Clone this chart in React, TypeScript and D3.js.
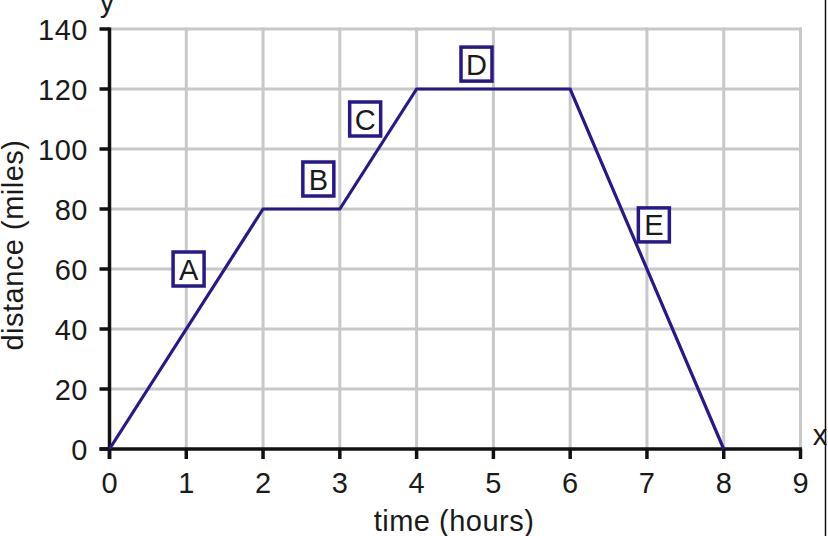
import React from "react";
import * as d3 from "d3";

const xTicks = [0, 1, 2, 3, 4, 5, 6, 7, 8, 9];
const yTicks = [0, 20, 40, 60, 80, 100, 120, 140];
const timeHours = [0, 2, 3, 4, 6, 8];
const distanceMiles = [0, 80, 80, 120, 120, 0];
const segmentLabels = ["A", "B", "C", "D", "E"];
const labelX = [1.03, 2.72, 3.33, 4.78, 7.09];
const labelY = [60, 90, 110, 128.3, 74.7];

const W = 828;
const H = 536;
const FONT = "'Liberation Sans', Arial, Helvetica, sans-serif";
const NAVY = "#27198a";
const FS = 29;
const LS = 0.5;

export default function App() {
  const x = d3.scaleLinear().domain([0, 9]).range([109.5, 800.5]);
  const y = d3.scaleLinear().domain([0, 140]).range([449, 29]);

  const pts = timeHours.map((t, i) => [t, distanceMiles[i]] as [number, number]);
  const line = d3
    .line<[number, number]>()
    .x((d) => x(d[0]))
    .y((d) => y(d[1]));

  return (
    <svg
      width={W}
      height={H}
      style={{ position: "absolute", left: 0, top: 0, background: "#fff" }}
      fontFamily={FONT}
    >
      <rect x={0} y={0} width={W} height={H} fill="#fff" />
      {/* grid */}
      {xTicks
        .filter((t) => t > 0)
        .map((t) => (
          <line
            key={"gx" + t}
            x1={x(t)}
            x2={x(t)}
            y1={y(140) - 1.5}
            y2={y(0)}
            stroke="#c8c8c8"
            strokeWidth={3}
          />
        ))}
      {yTicks
        .filter((t) => t > 0)
        .map((t) => (
          <line
            key={"gy" + t}
            x1={x(0)}
            x2={x(9) + 1.5}
            y1={y(t)}
            y2={y(t)}
            stroke="#c8c8c8"
            strokeWidth={3}
          />
        ))}
      {/* axes */}
      <line x1={x(0)} x2={x(0)} y1={y(140) - 1.5} y2={y(0) + 10} stroke="#111" strokeWidth={3.5} />
      <line x1={x(0) - 10} x2={x(9) + 1.5} y1={y(0)} y2={y(0)} stroke="#111" strokeWidth={3.5} />
      {yTicks.map((t) => (
        <line key={"ty" + t} x1={x(0) - 10} x2={x(0)} y1={y(t)} y2={y(t)} stroke="#111" strokeWidth={3.5} />
      ))}
      {xTicks.map((t) => (
        <line key={"tx" + t} x1={x(t)} x2={x(t)} y1={y(0)} y2={y(0) + 10} stroke="#111" strokeWidth={3.5} />
      ))}
      {/* tick labels */}
      {yTicks.map((t) => (
        <text
          key={"ly" + t}
          x={88}
          y={y(t) + 10.5}
          textAnchor="end"
          fontSize={FS}
          letterSpacing={LS}
          fill="#1a1a1a"
        >
          {t}
        </text>
      ))}
      {xTicks.map((t) => (
        <text
          key={"lx" + t}
          x={x(t)}
          y={493}
          textAnchor="middle"
          fontSize={FS}
          fill="#1a1a1a"
        >
          {t}
        </text>
      ))}
      {/* axis titles */}
      <text x={454} y={531} textAnchor="middle" fontSize={FS} letterSpacing={LS} fill="#1a1a1a">
        time (hours)
      </text>
      <text
        transform={`translate(23, ${245}) rotate(-90)`}
        textAnchor="middle"
        fontSize={FS}
        letterSpacing={LS}
        fill="#1a1a1a"
      >
        distance (miles)
      </text>
      <text x={107} y={12} textAnchor="middle" fontSize={FS} fill="#1a1a1a">
        y
      </text>
      <text x={820} y={445} textAnchor="middle" fontSize={FS} fill="#1a1a1a">
        x
      </text>
      {/* data line */}
      <path d={line(pts) || ""} fill="none" stroke={NAVY} strokeWidth={3.2} strokeLinejoin="miter" />
      {/* segment labels */}
      {segmentLabels.map((s, i) => {
        const cx = x(labelX[i]);
        const cy = y(labelY[i]);
        return (
          <g key={s}>
            <rect x={cx - 15.5} y={cy - 17} width={31} height={34} fill="#fff" stroke={NAVY} strokeWidth={3.5} />
            <text x={cx} y={cy + 10.5} textAnchor="middle" fontSize={FS} fill="#1a1a1a">
              {s}
            </text>
          </g>
        );
      })}
      {/* right border */}
      <line x1={825.5} x2={825.5} y1={0} y2={H} stroke="#111" strokeWidth={1.5} />
    </svg>
  );
}
